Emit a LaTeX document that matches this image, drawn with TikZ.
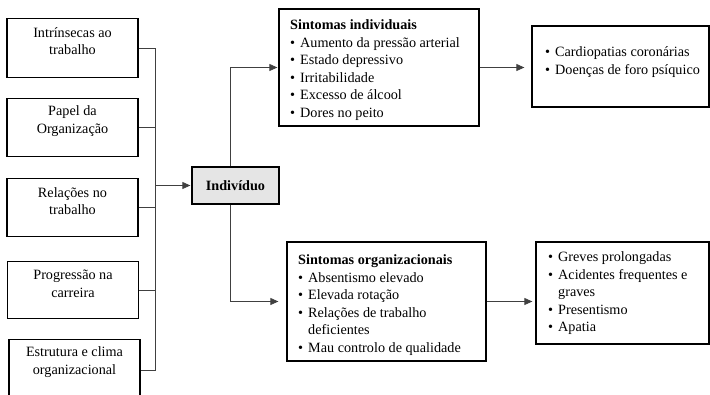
\documentclass[tikz,border=0pt]{standalone}
\usepackage{fontspec}
\setmainfont{Liberation Serif}
\usetikzlibrary{arrows.meta}
\newcommand{\bul}{\makebox[10pt][l]{•}}

\begin{document}
\begin{tikzpicture}[x=1pt, y=-1pt,
		caixa/.style={draw, line width=1.3pt, inner sep=0pt},
		texto/.style={inner sep=0pt, font=\fontsize{14.2}{17.5}\selectfont},
		liga/.style={draw=black!75, line width=0.8pt},
		seta/.style={liga, -{Triangle[length=8pt,width=7pt]}, shorten >=1pt}]
			\useasboundingbox (0,0) rectangle (710,395);
			\clip (0,0) rectangle (710,395);
			
			% Causas
			\foreach \n/\x/\y/\h/\t in {c1/72.5/18/59/{Intrínsecas ao\\trabalho},
				c2/72.5/98/58/{Papel da\\Organização},
				c3/72.5/178/58/{Relações no\\trabalho},
				c4/73/261/57/{Progressão na\\carreira},
				c5/74.5/339/62/{Estrutura e clima\\organizacional}} {
					\node[caixa, anchor=north, minimum width=131, minimum height=\h] (\n) at (\x,\y) {};
					\node[texto, align=center] (t\n) at ([yshift=-23pt]\n.north) {\t};
				}
			
			% Individuo
			\node[caixa, fill=black!10, minimum width=87, minimum height=37,
				font=\bfseries\fontsize{14.2}{17.5}\selectfont] (ind) at (235.5,185.5) {Indivíduo};
			
			% Sintomas
			\node[caixa, minimum width=200, minimum height=117] (sind) at (379,67.5) {};
			\node[texto, align=left, anchor=north west] (tsind) at (290,19.5)
				{\textbf{Sintomas individuais}\\\bul Aumento da pressão arterial\\\bul Estado depressivo\\\bul Irritabilidade\\\bul Excesso de álcool\\\bul Dores no peito};
			\node[caixa, minimum width=199, minimum height=119] (org) at (386.5,301.5) {};
			\node[texto, align=left, anchor=north west] (torg) at (298,254.5)
				{\textbf{Sintomas organizacionais}\\\bul Absentismo elevado\\\bul Elevada rotação\\\bul Relações de trabalho\\\hspace*{10pt}deficientes\\\bul Mau controlo de qualidade};
			
			% Consequencias
			\node[caixa, minimum width=177, minimum height=81] (cardio) at (620.5,66.5) {};
			\node[texto, align=left, anchor=north west] (tcardio) at (545,46.5)
				{\bul Cardiopatias coronárias\\\bul Doenças de foro psíquico};
			\node[caixa, minimum width=173, minimum height=102] (conseq) at (622.5,293) {};
			\node[texto, align=left, anchor=north west] (tconseq) at (548,251.5)
				{\bul Greves prolongadas\\\bul Acidentes frequentes e\\\hspace*{10pt}graves\\\bul Presentismo\\\bul Apatia};
			
			% Ligacoes
			\coordinate (tronco) at (155,0);
			\foreach \n in {c1,c2,c3,c4,c5} {
				\draw[liga] (\n.east) -- (\n.east -| tronco);
			}
			\draw[liga] (c1.east -| tronco) -- (c5.east -| tronco);
			\draw[seta] (tronco |- ind.west) -- (ind.west);
			\draw[seta] ([xshift=-5.5pt]ind.north) |- (sind.west);
			\draw[seta, shorten >=8pt] ([xshift=-5.5pt]ind.south) |- (org.west);
			\draw[seta, shorten >=7pt] (sind.east) -- (sind.east -| cardio.west);
			\draw[seta, shorten >=3pt] (org.east) -- (org.east -| conseq.west);
			
		\end{tikzpicture}
\end{document}
